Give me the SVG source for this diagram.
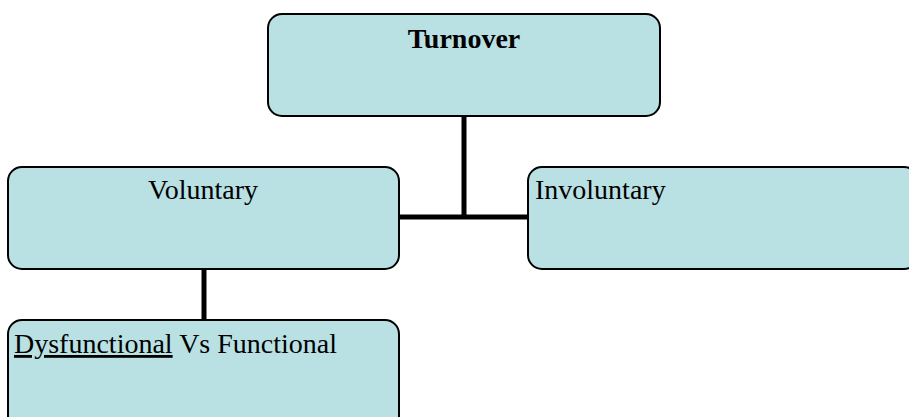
<svg xmlns="http://www.w3.org/2000/svg" width="909" height="417" viewBox="0 0 909 417">
<style>
.box{fill:#b9e0e3;stroke:#000;stroke-width:2}
.t{font-family:"Liberation Serif","Times New Roman",serif;font-size:28px;fill:#000}
.c{stroke:#000;stroke-width:5;fill:none}
</style>
<rect width="909" height="417" fill="#fff"/>
<g id="connectors">
<line class="c" x1="464" y1="116" x2="464" y2="217"/>
<line class="c" x1="399" y1="217" x2="528" y2="217"/>
<line class="c" x1="204" y1="269" x2="204" y2="320"/>
</g>
<g id="turnover">
<rect class="box" x="268" y="14" width="392" height="102" rx="14"/>
<text class="t" x="464" y="48" text-anchor="middle" font-weight="bold">Turnover</text>
</g>
<g id="voluntary">
<rect class="box" x="8" y="167" width="391" height="102" rx="14"/>
<text class="t" x="203" y="199" text-anchor="middle">Voluntary</text>
</g>
<g id="involuntary">
<rect class="box" x="528" y="167" width="390" height="102" rx="14"/>
<text class="t" x="535" y="199">Involuntary</text>
</g>
<g id="dysfunctional">
<rect class="box" x="8" y="320" width="391" height="110" rx="14"/>
<text class="t" x="14" y="353"><tspan text-decoration="underline">Dysfunctional</tspan> Vs Functional</text>
</g>
</svg>
